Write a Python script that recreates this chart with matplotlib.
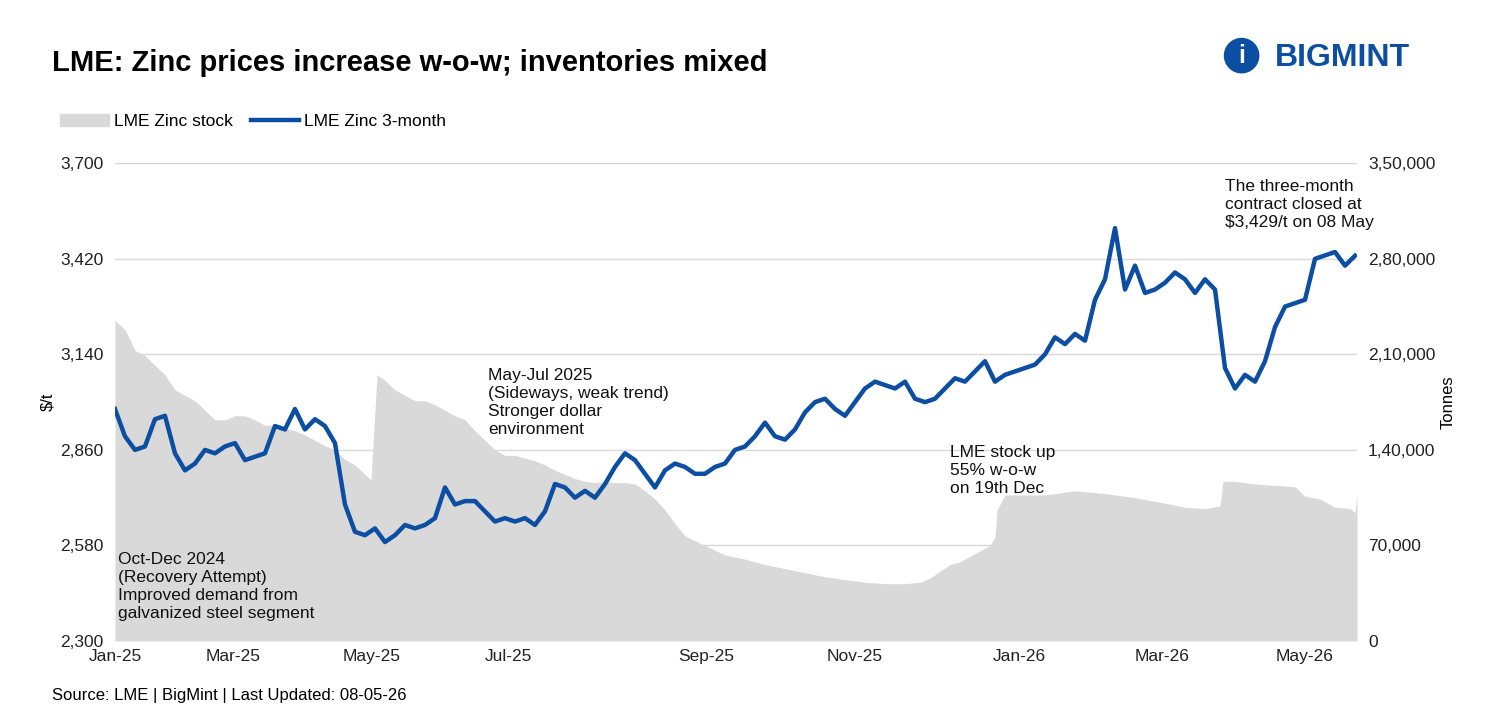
import matplotlib
matplotlib.use("Agg")
import matplotlib.pyplot as plt
from matplotlib.patches import Ellipse, Patch
from matplotlib.lines import Line2D

plt.rcParams['font.family'] = ['Liberation Sans', 'DejaVu Sans']

# chart index (≈ position along the time axis)
price_idx = list(range(0, 1250, 10))
price = [2980,2900,2860,2870,2950,2960,2850,2800,2820,2860,2850,2870,2880,2830,2840,2850,
         2930,2920,2980,2920,2950,2930,2880,2700,2620,2610,2630,2590,2610,2640,2630,2640,
         2660,2750,2700,2710,2710,2680,2650,2660,2650,2660,2640,2680,2760,2750,2720,2740,
         2720,2760,2810,2850,2830,2790,2750,2800,2820,2810,2790,2790,2810,2820,2860,2870,
         2900,2940,2900,2890,2920,2970,3000,3010,2980,2960,3000,3040,3060,3050,3040,3060,
         3010,3000,3010,3040,3070,3060,3090,3120,3060,3080,3090,3100,3110,3140,3190,3170,
         3200,3180,3300,3360,3510,3330,3400,3320,3330,3350,3380,3360,3320,3360,3330,3100,
         3040,3080,3060,3120,3220,3280,3290,3300,3420,3430,3440,3400,3429]
price_idx = price_idx[:len(price)]

stock_pairs = [(0,235000),(10,228000),(20,213000),(30,209000),(40,202000),(50,195000),(60,184000),
    (70,180000),(80,176000),(90,169000),(100,162000),(110,162000),(120,165000),(130,165000),
    (140,162000),(150,158000),(160,158000),(170,156000),(180,154000),(190,151000),(200,147000),
    (210,143000),(220,140000),(230,133000),(240,129000),(250,122000),(256,118000),(262,195000),
    (270,191000),(280,184000),(290,180000),(300,176000),(310,176000),(320,173000),(330,169000),
    (340,165000),(350,162000),(360,154000),(370,147000),(380,140000),(390,136000),(400,136000),
    (410,134000),(420,132000),(430,129000),(440,125000),(450,122000),(460,119000),(470,117000),
    (480,116000),(490,117000),(500,116000),(510,116000),(520,115000),(530,110000),(540,104000),
    (550,96000),(560,86000),(570,77000),(590,70000),(610,63000),(630,60000),(650,56000),
    (670,53000),(690,50000),(710,47000),(730,45000),(750,43000),(770,42000),(790,42000),
    (805,43000),(815,46000),(825,51000),(835,56000),(845,58000),(855,62000),(865,66000),
    (875,70000),(880,76000),(882,96000),(890,107000),(900,107000),(930,107000),(960,110000),
    (990,108000),(1020,105000),(1050,101000),(1070,98000),(1090,97000),(1105,99000),
    (1108,117000),(1120,117000),(1140,115000),(1160,114000),(1180,113000),(1190,106000),
    (1205,104000),(1220,98000),(1235,97000),(1240,94000),(1242,107000)]
stock_idx = [p[0] for p in stock_pairs]
stock = [p[1] for p in stock_pairs]

xtick_pos = [0,118,257,393,591,740,904,1047,1190]
xtick_lab = ['Jan-25','Mar-25','May-25','Jul-25','Sep-25','Nov-25','Jan-26','Mar-26','May-26']
yticks_l = [2300,2580,2860,3140,3420,3700]
yticks_r = [0,70000,140000,210000,280000,350000]
yticks_r_lab = ['0','70,000','1,40,000','2,10,000','2,80,000','3,50,000']

fig = plt.figure(figsize=(14.95,7.13), dpi=100)
ax = fig.add_axes([0.0769,0.101,0.8308,0.670])
ax2 = ax.twinx()
ax.set_zorder(2); ax.patch.set_visible(False)
ax2.set_zorder(1)

ax2.fill_between(stock_idx, stock, 0, color='#d9d9d9', lw=0)
ax2.set_ylim(0,350000)
ax2.set_yticks(yticks_r)
ax2.set_yticklabels(yticks_r_lab)
ax2.set_ylabel('Tonnes', fontsize=12)

ax.plot(price_idx, price, color='#0b4ea2', lw=3.2, solid_joinstyle='round')
ax.set_ylim(2300,3700)
ax.set_xlim(0,1242)
ax.set_yticks(yticks_l)
ax.set_yticklabels([f"{v:,}" for v in yticks_l])
ax.set_xticks(xtick_pos)
ax.set_xticklabels(xtick_lab)
ax.set_ylabel('$/t', fontsize=12)
ax.grid(axis='y', color='#d9d9d9', lw=1)
for a in (ax, ax2):
    for s in a.spines.values(): s.set_visible(False)
    a.tick_params(length=0, labelsize=12.5, colors='#222222', pad=8)
ax.tick_params(axis='x', pad=6)

kw = dict(fontsize=12.5, color='#111111', linespacing=1.25)
ax.text(3,2460,'Oct-Dec 2024\n(Recovery Attempt)\nImproved demand from\ngalvanized steel segment', va='center', **kw)
ax.text(373,3000,'May-Jul 2025\n(Sideways, weak trend)\nStronger dollar\nenvironment', va='center', **kw)
ax.text(835,2800,'LME stock up\n55% w-o-w\non 19th Dec', va='center', **kw)
ax.text(1110,3580,'The three-month\ncontract closed at\n$3,429/t on 08 May', va='center', **kw)

fig.text(0.035,0.912,'LME: Zinc prices increase w-o-w; inventories mixed', fontsize=21, fontweight='bold', va='center')
fig.text(0.035,0.025,'Source: LME | BigMint | Last Updated: 08-05-26', fontsize=12, va='center')
fig.legend(handles=[Patch(color='#d9d9d9', label='LME Zinc stock'),
                    Line2D([],[],color='#0b4ea2',lw=3.2,label='LME Zinc 3-month')],
           loc='center left', bbox_to_anchor=(0.03,0.829), ncol=2, frameon=False,
           fontsize=12.5, handlelength=2.8, columnspacing=1.0, handletextpad=0.3)

c = Ellipse((0.8305,0.922), 0.048*713/1495, 0.048, transform=fig.transFigure, color='#0b4ea2')
fig.patches.append(c)
fig.text(0.8305,0.922,'i', fontsize=18, fontweight='bold', color='white', ha='center', va='center')
fig.text(0.853,0.918,'BIGMINT', fontsize=23, fontweight='bold', color='#0b4ea2', va='center')

fig.savefig('out.png', dpi=100)
